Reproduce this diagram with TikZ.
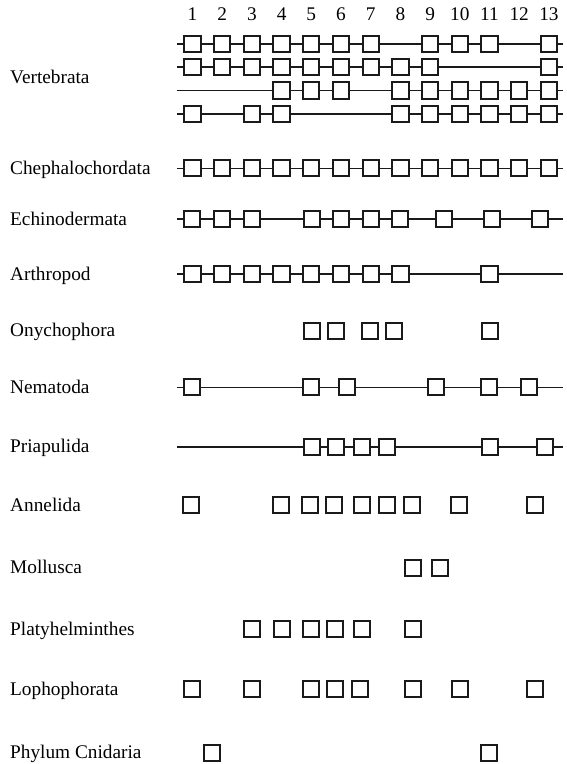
\documentclass[tikz,border=0pt]{standalone}
\usepackage{fontspec}
\setmainfont{Liberation Serif}
\definecolor{ink}{HTML}{1A1A1A}
\newcommand\boxrow[3]{% name, y, list of x
  \foreach \x [count=\i] in {#3} {\node[sq] (#1-\i) at ({\x},#2) {}; \xdef\lastidx{\i}}}
\newcommand\linkrow[2]{% name, y
  \coordinate (#1-s) at (176.5,#2);
  \coordinate (#1-e) at (563,#2);
  \draw[link] (#1-s) -- (#1-1);
  \foreach \i in {2,...,\lastidx} {\pgfmathtruncatemacro\j{\i-1}\draw[link] (#1-\j) -- (#1-\i);}
  \draw[link] (#1-\lastidx) -- (#1-e);}
\begin{document}
\begin{tikzpicture}[x=1pt,y=-1pt,
  sq/.style={draw=ink,line width=2pt,fill=white,minimum size=16.3pt,inner sep=0pt},
  link/.style={draw=ink,line width=1.6pt},
  lab/.style={anchor=base west,inner sep=0pt,font=\fontsize{19.3}{22}\selectfont},
  num/.style={anchor=base,inner sep=0pt,font=\fontsize{19.3}{22}\selectfont}]
\useasboundingbox (0,0) rectangle (567,764);
% column numbers
\foreach \c in {1,...,13} \node[num] (n\c) at ({192.5+(\c-1)*29.7},20.6) {\c};
% labels
\node[lab] (l1) at (10,83.5) {Vertebrata};
\node[lab] (l2) at (10,174) {Chephalochordata};
\node[lab] (l3) at (10,225) {Echinodermata};
\node[lab] (l4) at (10,280) {Arthropod};
\node[lab] (l5) at (10,336.5) {Onychophora};
\node[lab] (l6) at (10,393) {Nematoda};
\node[lab] (l7) at (10,452.5) {Priapulida};
\node[lab] (l8) at (10,511) {Annelida};
\node[lab] (l9) at (10,573.5) {Mollusca};
\node[lab] (l10) at (10,635) {Platyhelminthes};
\node[lab] (l11) at (10,695) {Lophophorata};
\node[lab] (l12) at (10,758.5) {Phylum Cnidaria};
% Vertebrata
\boxrow{va}{44}{192.5,222.2,251.9,281.6,311.3,341.0,370.7,430.1,459.8,489.5,548.9}
\linkrow{va}{44}
\boxrow{vb}{67}{192.5,222.2,251.9,281.6,311.3,341.0,370.7,400.4,430.1,548.9}
\linkrow{vb}{67}
\boxrow{vc}{90.5}{281.6,311.3,341.0,400.4,430.1,459.8,489.5,519.2,548.9}
\linkrow{vc}{90.5}
\boxrow{vd}{114}{192.5,251.9,281.6,400.4,430.1,459.8,489.5,519.2,548.9}
\linkrow{vd}{114}
% Chephalochordata
\boxrow{ce}{168.3}{192.5,222.2,251.9,281.6,311.3,341.0,370.7,400.4,430.1,459.8,489.5,519.2,548.9}
\linkrow{ce}{168.3}
% Echinodermata
\boxrow{ec}{219}{192.3,222.3,252.3,311.7,341,371,400.3,444,491.7,540.3}
\linkrow{ec}{219}
% Arthropod
\boxrow{ar}{274}{192.5,222.2,251.9,281.6,311.3,341.0,370.7,400.4,489.5}
\linkrow{ar}{274}
% Onychophora
\boxrow{on}{330.7}{311.7,335.7,370.3,394,490.3}
% Nematoda
\boxrow{ne}{387.3}{191.7,310.7,347.3,435.7,489.3,529}
\linkrow{ne}{387.3}
% Priapulida
\boxrow{pr}{446.7}{311.7,335.7,361.7,386.7,490.3,545}
\linkrow{pr}{446.7}
% Annelida
\boxrow{an}{505}{191.3,280.7,310,334,361.7,386.7,412.3,459,535}
% Mollusca
\boxrow{mo}{567.7}{413.3,440}
% Platyhelminthes
\boxrow{pl}{629.3}{252.3,281.7,311,335,362.3,413.3}
% Lophophorata
\boxrow{lo}{689.3}{191.7,251.7,311,335,360,413.3,460,535}
% Phylum Cnidaria
\boxrow{cn}{752.7}{212.3,489.3}
\end{tikzpicture}
\end{document}
